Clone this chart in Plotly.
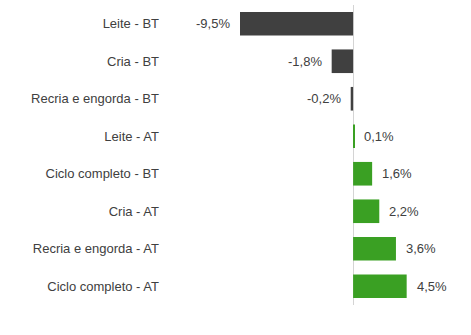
import plotly.graph_objects as go

# Variação por sistema de produção (%)
categorias = [
    "Leite - BT",
    "Cria - BT",
    "Recria e engorda - BT",
    "Leite - AT",
    "Ciclo completo - BT",
    "Cria - AT",
    "Recria e engorda - AT",
    "Ciclo completo - AT",
]
valores = [-9.5, -1.8, -0.2, 0.1, 1.6, 2.2, 3.6, 4.5]

COR_NEG = "#404040"
COR_POS = "#3aa023"
COR_TEXTO = "#404040"
FONTE = "Liberation Sans, Arial, sans-serif"

cores = [COR_NEG if v < 0 else COR_POS for v in valores]
rotulos = [f"{v:.1f}".replace(".", ",") + "%" for v in valores]

fig = go.Figure(
    go.Bar(
        x=valores,
        y=categorias,
        orientation="h",
        marker=dict(color=cores, line=dict(width=0)),
        hoverinfo="skip",
    )
)

# rótulos de valor ao lado de cada barra
for cat, v, txt in zip(categorias, valores, rotulos):
    fig.add_annotation(
        x=v,
        y=cat,
        text=txt,
        showarrow=False,
        xanchor="left" if v >= 0 else "right",
        xshift=8 if v >= 0 else -8,
        font=dict(family=FONTE, size=13, color=COR_TEXTO),
    )

fig.update_layout(
    width=471,
    height=335,
    margin=dict(l=165, r=6, t=5, b=30),
    paper_bgcolor="white",
    plot_bgcolor="white",
    bargap=0.37,
    showlegend=False,
    font=dict(family=FONTE, size=13, color=COR_TEXTO),
)
fig.update_xaxes(
    range=[-15.8, 9.4],
    showgrid=False,
    showticklabels=False,
    zeroline=True,
    zerolinecolor="#d4d4d4",
    zerolinewidth=1,
    showline=False,
)
fig.update_yaxes(
    autorange="reversed",
    showgrid=False,
    showline=False,
    ticks="",
    ticklabelstandoff=5,
    tickfont=dict(family=FONTE, size=13, color=COR_TEXTO),
)

fig.write_html("out.html")
